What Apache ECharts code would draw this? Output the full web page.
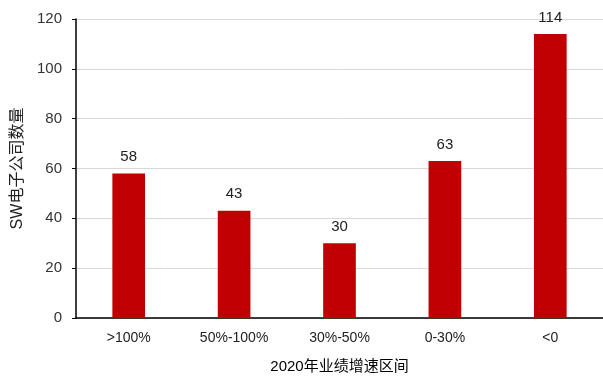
<!DOCTYPE html>
<html>
<head>
<meta charset="utf-8">
<script src="https://cdn.jsdelivr.net/npm/echarts@6/dist/echarts.min.js"></script>
<style>
html, body { margin: 0; padding: 0; background: #fff; }
#main { width: 603px; height: 379px; }
</style>
</head>
<body>
<div id="main"></div>
<script>
var categories = ['>100%', '50%-100%', '30%-50%', '0-30%', '<0'];
var counts = [58, 43, 30, 63, 114];

var myChart = echarts.init(document.getElementById('main'));
var option = {
	animation : false,
	grid : {
		left : 76,
		right : 0,
		top : 19,
		bottom : 61,
		outerBoundsMode : 'none'
	},
	xAxis : {
		type : 'category',
		data : categories,
		name : '2020年业绩增速区间',
		nameLocation : 'middle',
		nameGap : 41,
		nameTextStyle : {
			color : '#000',
			fontSize : 15,
			fontFamily : 'Liberation Sans, Noto Sans CJK SC'
		},
		axisLine : {
			lineStyle : { color : '#000', width : 1.5 }
		},
		axisTick : { show : false },
		axisLabel : {
			color : '#222',
			fontSize : 14,
			margin : 13,
			fontFamily : 'Liberation Sans'
		}
	},
	yAxis : {
		type : 'value',
		min : 0,
		max : 120,
		interval : 20,
		name : 'SW电子公司数量',
		nameLocation : 'middle',
		nameGap : 50,
		nameTextStyle : {
			color : '#222',
			fontSize : 16,
			fontFamily : 'Liberation Sans, Noto Sans CJK SC'
		},
		axisLine : {
			show : true,
			lineStyle : { color : '#000', width : 1.5 }
		},
		axisTick : {
			show : true,
			length : 4,
			lineStyle : { color : '#000' }
		},
		axisLabel : {
			color : '#333',
			fontSize : 15,
			margin : 14,
			fontFamily : 'Liberation Sans'
		},
		splitLine : {
			lineStyle : { color : '#d9d9d9', width : 1 }
		}
	},
	series : [ {
		type : 'bar',
		data : counts,
		barWidth : '31%',
		itemStyle : { color : '#c00000' },
		label : {
			show : true,
			position : 'top',
			distance : 9,
			color : '#222',
			fontSize : 15,
			fontFamily : 'Liberation Sans'
		}
	} ]
};
myChart.setOption(option);
</script>
</body>
</html>
